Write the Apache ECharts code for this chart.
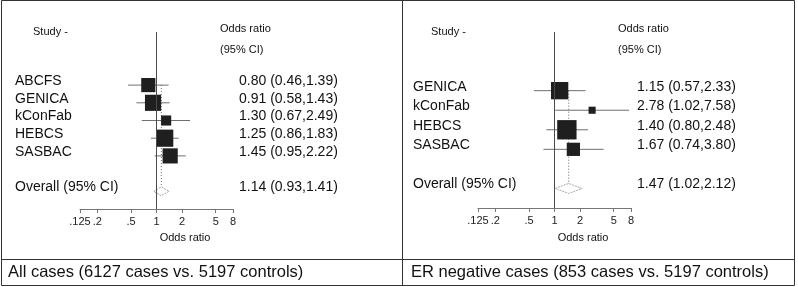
<!DOCTYPE html>
<html>
<head>
<meta charset="utf-8">
<script src="https://cdn.jsdelivr.net/npm/echarts@6/dist/echarts.min.js"></script>
<style>
  html, body { margin: 0; padding: 0; background: #fff; }
  #chart { width: 798px; height: 287px; }
</style>
</head>
<body>
<div id="chart"></div>
<script>
// all cases
var studiesAll = ['ABCFS', 'GENICA', 'kConFab', 'HEBCS', 'SASBAC'];
var orAll = [0.80, 0.91, 1.30, 1.25, 1.45];
var lowAll = [0.46, 0.58, 0.67, 0.86, 0.95];
var highAll = [1.39, 1.43, 2.49, 1.83, 2.22];
var weightAll = [18.4, 24.0, 9.4, 27.1, 21.1];
var overallAll = [1.14, 0.93, 1.41];

// ER negative cases
var studiesER = ['GENICA', 'kConFab', 'HEBCS', 'SASBAC'];
var orER = [1.15, 2.78, 1.40, 1.67];
var lowER = [0.57, 1.02, 0.80, 0.74];
var highER = [2.33, 7.58, 2.48, 3.80];
var weightER = [33.3, 5.6, 41.6, 19.5];
var overallER = [1.47, 1.02, 2.12];

var tickValues = [0.125, 0.2, 0.5, 1, 2, 5, 8];
var tickLabels = ['.125', '.2', '.5', '1', '2', '5', '8'];
var captions = ['All cases (6127 cases vs. 5197 controls)', 'ER negative cases (853 cases vs. 5197 controls)'];

var FONT = '"Liberation Sans", Arial, Helvetica, sans-serif';
var log2 = function (v) { return Math.log(v) / Math.LN2; };
var fmt = function (e, l, h) { return e.toFixed(2) + ' (' + l.toFixed(2) + ',' + h.toFixed(2) + ')'; };

var panels = [
  { studies: studiesAll, or: orAll, low: lowAll, high: highAll, w: weightAll, overall: overallAll,
    offset: 0, boxScale: 3.3, diamondH: 9, grid: { left: 80, width: 153, top: 32, height: 177 }, yMax: 7 },
  { studies: studiesER, or: orER, low: lowER, high: highER, w: weightER, overall: overallER,
    offset: 398, boxScale: 3.0, diamondH: 10, grid: { left: 478, width: 153, top: 32, height: 176 }, yMax: 6 }
];

function studyRender(p) {
  return function (params, api) {
    var row = api.value(1);
    var c = api.coord([api.value(0), row]);
    var lo = api.coord([api.value(2), row]);
    var hi = api.coord([api.value(3), row]);
    var s = p.boxScale * Math.sqrt(api.value(4));
    var i = params.dataIndex;
    return {
      type: 'group',
      children: [
        { type: 'line', shape: { x1: lo[0], y1: c[1], x2: hi[0], y2: c[1] },
          style: { stroke: '#707070', lineWidth: 1 } },
        { type: 'rect', shape: { x: c[0] - s / 2, y: c[1] - s / 2, width: s, height: s },
          style: { fill: '#1f1f1f' } },
        { type: 'text', x: p.offset + 15, y: c[1] - 4,
          style: { text: p.studies[i], fill: '#111', font: '14px ' + FONT, verticalAlign: 'middle' } },
        { type: 'text', x: p.offset + 239, y: c[1] - 4,
          style: { text: fmt(p.or[i], p.low[i], p.high[i]), fill: '#111', font: '14px ' + FONT, verticalAlign: 'middle' } }
      ]
    };
  };
}

function overallRender(p) {
  return function (params, api) {
    var row = api.value(1);
    var c = api.coord([api.value(0), row]);
    var lo = api.coord([api.value(2), row]);
    var hi = api.coord([api.value(3), row]);
    var h = p.diamondH / 2;
    return {
      type: 'group',
      children: [
        { type: 'polygon', shape: { points: [[lo[0], c[1]], [c[0], c[1] - h], [hi[0], c[1]], [c[0], c[1] + h]] },
          style: { fill: '#fff', stroke: '#a8a8a8', lineWidth: 1, lineDash: [2, 1] } },
        { type: 'text', x: p.offset + 15, y: c[1] - 4,
          style: { text: 'Overall (95% CI)', fill: '#111', font: '14px ' + FONT, verticalAlign: 'middle' } },
        { type: 'text', x: p.offset + 239, y: c[1] - 4,
          style: { text: fmt(p.overall[0], p.overall[1], p.overall[2]), fill: '#111', font: '14px ' + FONT, verticalAlign: 'middle' } }
      ]
    };
  };
}

var grids = [], xAxes = [], yAxes = [], series = [], graphics = [];

panels.forEach(function (p, k) {
  var n = p.studies.length;
  var overallRow = n + 1;
  grids.push(p.grid);
  xAxes.push({
    type: 'value', gridIndex: k, min: -3, max: 3,
    splitLine: { show: false },
    axisLine: { onZero: false, lineStyle: { color: '#777', width: 1 } },
    axisTick: { customValues: tickValues.map(log2), length: 4, lineStyle: { color: '#777' } },
    axisLabel: {
      customValues: tickValues.map(log2), margin: 7, fontSize: 11, fontFamily: FONT, color: '#222',
      formatter: function (v) {
        var best = 0;
        tickValues.forEach(function (t, j) {
          if (Math.abs(log2(t) - v) < Math.abs(log2(tickValues[best]) - v)) best = j;
        });
        return tickLabels[best];
      }
    }
  });
  yAxes.push({ type: 'value', gridIndex: k, inverse: true, min: -3, max: p.yMax, show: false });

  series.push({
    type: 'custom', xAxisIndex: k, yAxisIndex: k, clip: false,
    renderItem: studyRender(p),
    data: p.studies.map(function (s, i) {
      return [log2(p.or[i]), i, log2(p.low[i]), log2(p.high[i]), p.w[i]];
    }),
    markLine: {
      silent: true, symbol: 'none', label: { show: false },
      lineStyle: { color: '#4a4a4a', type: 'solid', width: 1 },
      data: [{ xAxis: 0 }]
    },
    z: 3
  });
  series.push({
    type: 'line', xAxisIndex: k, yAxisIndex: k, symbol: 'none', silent: true,
    lineStyle: { color: '#666', type: [1, 2], width: 1 },
    data: [[log2(p.overall[0]), 0], [log2(p.overall[0]), overallRow]],
    z: 2
  });
  series.push({
    type: 'custom', xAxisIndex: k, yAxisIndex: k, clip: false,
    renderItem: overallRender(p),
    data: [[log2(p.overall[0]), overallRow, log2(p.overall[1]), log2(p.overall[2])]],
    z: 4
  });

  var o = p.offset;
  graphics.push(
    { type: 'text', x: o + 33, y: 32, style: { text: 'Study -', fill: '#111', font: '11px ' + FONT, verticalAlign: 'middle' } },
    { type: 'text', x: o + 220, y: 29, style: { text: 'Odds ratio', fill: '#111', font: '11px ' + FONT, verticalAlign: 'middle' } },
    { type: 'text', x: o + 220, y: 50, style: { text: '(95% CI)', fill: '#111', font: '11px ' + FONT, verticalAlign: 'middle' } },
    { type: 'text', x: o + 185, y: 238, style: { text: 'Odds ratio', fill: '#111', font: '11px ' + FONT, align: 'center', verticalAlign: 'middle' } }
  );
});

// table borders and captions
graphics.push(
  { type: 'rect', shape: { x: 1.5, y: 0.5, width: 793, height: 285 }, style: { fill: 'none', stroke: '#333', lineWidth: 1 } },
  { type: 'line', shape: { x1: 402.5, y1: 0.5, x2: 402.5, y2: 285.5 }, style: { stroke: '#333', lineWidth: 1 } },
  { type: 'line', shape: { x1: 1.5, y1: 259.5, x2: 794.5, y2: 259.5 }, style: { stroke: '#333', lineWidth: 1 } },
  { type: 'text', x: 8, y: 272, style: { text: captions[0], fill: '#111', font: '16.5px ' + FONT, verticalAlign: 'middle' } },
  { type: 'text', x: 411, y: 272, style: { text: captions[1], fill: '#111', font: '16.5px ' + FONT, verticalAlign: 'middle' } }
);

var myChart = echarts.init(document.getElementById('chart'));
myChart.setOption({
  animation: false,
  backgroundColor: '#fff',
  grid: grids,
  xAxis: xAxes,
  yAxis: yAxes,
  series: series,
  graphic: graphics
});
</script>
</body>
</html>
